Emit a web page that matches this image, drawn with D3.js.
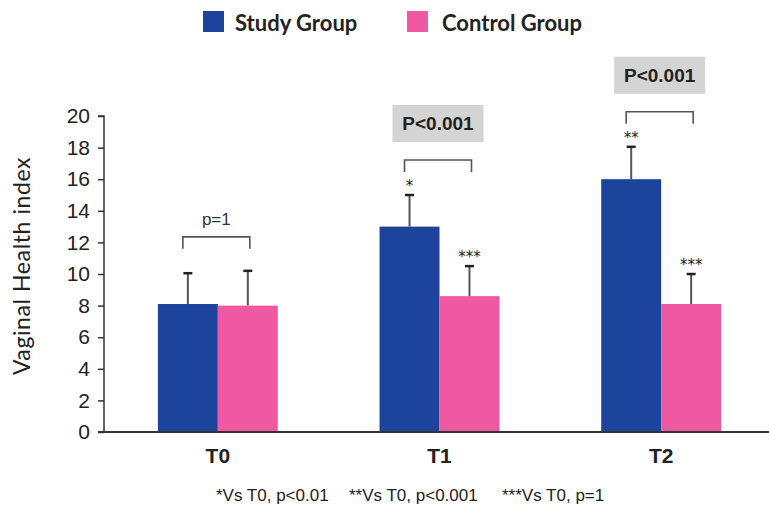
<!DOCTYPE html>
<html>
<head>
<meta charset="utf-8">
<script src="https://cdn.jsdelivr.net/npm/d3@7"></script>
<style>
  body { margin: 0; background: #fff; }
  svg { display: block; }
</style>
</head>
<body>
<svg id="chart" width="769" height="509"></svg>
<script>
const categories = ["T0", "T1", "T2"];
const groups = ["Study Group", "Control Group"];
const studyValues = [8.1, 13.0, 16.0];
const controlValues = [8.0, 8.6, 8.1];
const studyErrTop = [10.05, 15.0, 18.05];
const controlErrTop = [10.2, 10.5, 10.0];
const studyStars = ["", "*", "**"];
const controlStars = ["", "***", "***"];
const pLabels = ["p=1", "P<0.001", "P<0.001"];
const yTicks = [0, 2, 4, 6, 8, 10, 12, 14, 16, 18, 20];
const footnotes = ["*Vs T0, p<0.01", "**Vs T0, p<0.001", "***Vs T0, p=1"];

const colors = { "Study Group": "#1c449c", "Control Group": "#ef59a1" };

const cfg = {
  left: 104, right: 769, top: 116, bottom: 432,
  axisColor: "#333",
  errColor: "#555",
  capColor: "#222",
  capW: 9,
  boxFill: "#d4d4d4",
};

const svg = d3.select("#chart");

const x0 = d3.scaleBand()
  .domain(categories)
  .range([cfg.left + 3, cfg.right + 3])
  .paddingInner(0.459)
  .paddingOuter(0.2295);
const x1 = d3.scaleBand()
  .domain(groups)
  .range([0, x0.bandwidth()]);
const y = d3.scaleLinear().domain([0, 20]).range([cfg.bottom, cfg.top]);

const rows = categories.map((c, i) => ({
  cat: c,
  bars: [
    { g: groups[0], v: studyValues[i], e: studyErrTop[i], star: studyStars[i] },
    { g: groups[1], v: controlValues[i], e: controlErrTop[i], star: controlStars[i] },
  ],
  p: pLabels[i],
}));

// bars
const catG = svg.append("g").selectAll("g")
  .data(rows)
  .join("g")
  .attr("transform", (d) => `translate(${x0(d.cat)},0)`);

catG.selectAll("rect")
  .data((d) => d.bars)
  .join("rect")
  .attr("x", (d) => x1(d.g))
  .attr("y", (d) => y(d.v))
  .attr("width", x1.bandwidth())
  .attr("height", (d) => y(0) - y(d.v))
  .attr("fill", (d) => colors[d.g]);

// error bars
catG.selectAll("line.err")
  .data((d) => d.bars)
  .join("line")
  .attr("class", "err")
  .attr("x1", (d) => x1(d.g) + x1.bandwidth() / 2)
  .attr("x2", (d) => x1(d.g) + x1.bandwidth() / 2)
  .attr("y1", (d) => y(d.v))
  .attr("y2", (d) => y(d.e))
  .attr("stroke", cfg.errColor)
  .attr("stroke-width", 2);
catG.selectAll("line.cap")
  .data((d) => d.bars)
  .join("line")
  .attr("class", "cap")
  .attr("x1", (d) => x1(d.g) + x1.bandwidth() / 2 - cfg.capW / 2)
  .attr("x2", (d) => x1(d.g) + x1.bandwidth() / 2 + cfg.capW / 2)
  .attr("y1", (d) => y(d.e))
  .attr("y2", (d) => y(d.e))
  .attr("stroke", cfg.capColor)
  .attr("stroke-width", 2.5);

// stars
catG.selectAll("text.star")
  .data((d) => d.bars.filter((b) => b.star))
  .join("text")
  .attr("class", "star")
  .attr("x", (d) => x1(d.g) + x1.bandwidth() / 2)
  .attr("y", (d) => y(d.e) - 4)
  .attr("text-anchor", "middle")
  .attr("font-family", "'DejaVu Sans', sans-serif")
  .attr("font-size", 15)
  .attr("fill", "#222")
  .text((d) => d.star);

// brackets
catG.each(function (d) {
  const g = d3.select(this);
  const top = Math.max(d.bars[0].e, d.bars[1].e);
  const ax = x1(groups[0]) + x1.bandwidth() / 2 - 5;
  const bx = x1(groups[1]) + x1.bandwidth() / 2 + 2;
  const isP = d.p !== "p=1";
  const by = y(top) - (isP ? 35 : 34);
  g.append("path")
    .attr("d", `M${ax},${by + 12} V${by} H${bx} V${by + 12}`)
    .attr("fill", "none")
    .attr("stroke", "#555")
    .attr("stroke-width", 1.6);
  const cx = (ax + bx) / 2;
  if (isP) {
    g.append("rect")
      .attr("x", cx - 45.5)
      .attr("y", by - 55)
      .attr("width", 91)
      .attr("height", 37)
      .attr("fill", cfg.boxFill);
    g.append("text")
      .attr("x", cx)
      .attr("y", by - 30)
      .attr("text-anchor", "middle")
      .attr("font-family", "'Liberation Sans', sans-serif")
      .attr("font-weight", "bold")
      .attr("font-size", 19)
      .attr("fill", "#222")
      .text(d.p);
  } else {
    g.append("text")
      .attr("x", cx)
      .attr("y", by - 12)
      .attr("text-anchor", "middle")
      .attr("font-family", "'Liberation Sans', sans-serif")
      .attr("font-size", 17)
      .attr("fill", "#333")
      .text(d.p);
  }
});

// y axis
const yAxis = svg.append("g")
  .attr("transform", `translate(${cfg.left},0)`)
  .call(d3.axisLeft(y).tickValues(yTicks).tickSize(6).tickPadding(8));
yAxis.select(".domain").attr("stroke", cfg.axisColor).attr("stroke-width", 1.5)
  .attr("d", `M-6,${y(20)}H0V${y(0)}`);
yAxis.selectAll(".tick line").attr("stroke", cfg.axisColor).attr("stroke-width", 1.5);
yAxis.selectAll(".tick text")
  .attr("font-family", "'Liberation Sans', Arial, sans-serif")
  .attr("font-size", 21)
  .attr("fill", "#222");

// x axis
const xAxis = svg.append("g")
  .attr("transform", `translate(0,${cfg.bottom})`)
  .call(d3.axisBottom(x0).tickSize(0).tickPadding(16));
xAxis.select(".domain").attr("stroke", cfg.axisColor).attr("stroke-width", 2)
  .attr("d", `M${cfg.left - 6},0H${cfg.right}`);
xAxis.selectAll(".tick text")
  .attr("font-family", "'Liberation Sans', sans-serif")
  .attr("font-weight", "bold")
  .attr("font-size", 21)
  .attr("fill", "#222");

// y label
svg.append("text")
  .attr("transform", `translate(30,${(cfg.top + cfg.bottom) / 2 - 8}) rotate(-90)`)
  .attr("text-anchor", "middle")
  .attr("font-family", "Lato, sans-serif")
  .attr("font-size", 23)
  .attr("letter-spacing", 0.6)
  .attr("fill", "#222")
  .text("Vaginal Health index");

// legend
const legendX = [203, 407];
const legend = svg.append("g").selectAll("g")
  .data(groups)
  .join("g")
  .attr("transform", (d, i) => `translate(${legendX[i]},11)`);
legend.append("rect")
  .attr("width", 21)
  .attr("height", 21)
  .attr("fill", (d) => colors[d]);
legend.append("text")
  .attr("x", (d, i) => (i === 0 ? 32 : 35))
  .attr("y", 20)
  .attr("font-family", "Lato, sans-serif")
  .attr("font-weight", 700)
  .attr("font-size", 22)
  .attr("fill", "#222")
  .text((d) => d);

// footnote
const footX = [216, 349, 502];
svg.append("g").selectAll("text")
  .data(footnotes)
  .join("text")
  .attr("x", (d, i) => footX[i])
  .attr("y", 501)
  .attr("font-family", "'Liberation Sans', sans-serif")
  .attr("font-size", 17)
  .attr("fill", "#222")
  .text((d) => d);
</script>
</body>
</html>
